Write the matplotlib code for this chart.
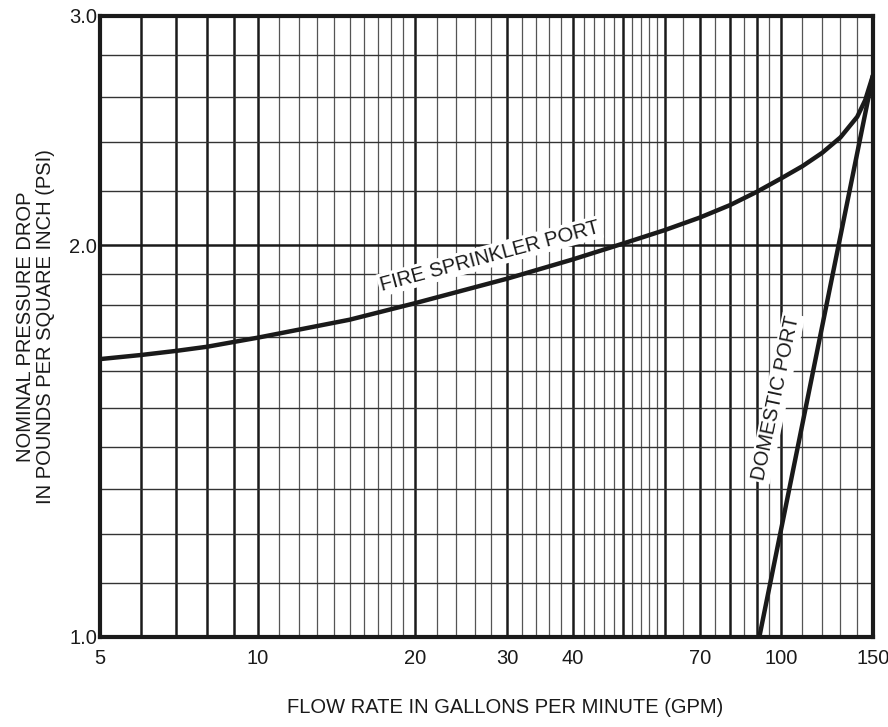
import matplotlib
matplotlib.use("Agg")
import matplotlib.pyplot as plt
from matplotlib.ticker import FixedLocator, FixedFormatter, NullLocator

plt.rcParams['font.family'] = ['Liberation Sans', 'DejaVu Sans']

# fire sprinkler port curve (gpm, psi)
fire_gpm = [5, 6, 7, 8, 10, 15, 20, 30, 40, 50, 60, 70, 80, 90, 100, 110, 120, 130, 140, 145, 150]
fire_psi = [1.635, 1.647, 1.659, 1.671, 1.698, 1.753, 1.805, 1.885, 1.950, 2.006, 2.054, 2.100,
            2.147, 2.198, 2.250, 2.300, 2.355, 2.420, 2.510, 2.585, 2.70]

# domestic port line
dom_gpm = [91, 150]
dom_psi = [1.0, 2.70]

# grid lines
vgrid_major = [6, 7, 8, 9, 10, 20, 30, 40, 50, 60, 70, 80, 90, 100]
vgrid_minor = [11, 12, 13, 14, 15, 16, 17, 18, 19, 22, 24, 26, 28, 32, 34, 36, 38,
               42, 44, 46, 48, 52, 54, 56, 58, 65, 75, 85, 95, 110, 120, 130, 140]
hgrid_major = [2.0]
hgrid_minor = [1.1, 1.2, 1.3, 1.4, 1.5, 1.6, 1.7, 1.8, 1.9, 2.2, 2.4, 2.6, 2.8]

xticks = [5, 10, 20, 30, 40, 70, 100, 150]
yticks = [1.0, 2.0, 3.0]

fig = plt.figure(figsize=(8.88, 7.27), dpi=100)
ax = fig.add_axes([0.1126, 0.1238, 0.8704, 0.8542])
ax.set_xscale('log')
ax.set_yscale('log')
ax.set_xlim(5, 150)
ax.set_ylim(1.0, 3.0)

for v in vgrid_minor:
    ax.axvline(v, color='#555555', lw=0.9, zorder=1)
for v in vgrid_major:
    ax.axvline(v, color='#1a1a1a', lw=1.8, zorder=1)
for h in hgrid_minor:
    ax.axhline(h, color='#333333', lw=1.0, zorder=1)
for h in hgrid_major:
    ax.axhline(h, color='#1a1a1a', lw=1.8, zorder=1)

ax.plot(fire_gpm, fire_psi, color='#1a1a1a', lw=3.2, zorder=3, solid_joinstyle='round')
ax.plot(dom_gpm, dom_psi, color='#1a1a1a', lw=3.2, zorder=3, solid_capstyle='butt')

ax.text(27.8, 1.962, 'FIRE SPRINKLER PORT', rotation=15, ha='center', va='center',
        fontsize=14.5, color='#1a1a1a', zorder=2,
        bbox=dict(facecolor='white', edgecolor='none', pad=1.5))
ax.text(98, 1.526, 'DOMESTIC PORT', rotation=78, ha='center', va='center',
        fontsize=14.5, color='#1a1a1a', zorder=2,
        bbox=dict(facecolor='white', edgecolor='none', pad=1.5))

ax.xaxis.set_major_locator(FixedLocator(xticks))
ax.xaxis.set_major_formatter(FixedFormatter([str(t) for t in xticks]))
ax.xaxis.set_minor_locator(NullLocator())
ax.yaxis.set_major_locator(FixedLocator(yticks))
ax.yaxis.set_major_formatter(FixedFormatter(['%.1f' % t for t in yticks]))
ax.yaxis.set_minor_locator(NullLocator())
ax.tick_params(axis='both', length=0, labelsize=14.5, colors='#1a1a1a')
ax.tick_params(axis='x', pad=9)
ax.tick_params(axis='y', pad=2)

for s in ax.spines.values():
    s.set_linewidth(3.0)
    s.set_color('#1a1a1a')
    s.set_zorder(4)

ax.set_xlabel('FLOW RATE IN GALLONS PER MINUTE (GPM)', fontsize=14.5, color='#1a1a1a')
ax.xaxis.set_label_coords(0.524, -0.098)
ax.set_ylabel('NOMINAL PRESSURE DROP\nIN POUNDS PER SQUARE INCH (PSI)', fontsize=14.5,
              color='#1a1a1a', linespacing=1.1)
ax.yaxis.set_label_coords(-0.058, 0.5)

fig.savefig('out.png', dpi=100)
